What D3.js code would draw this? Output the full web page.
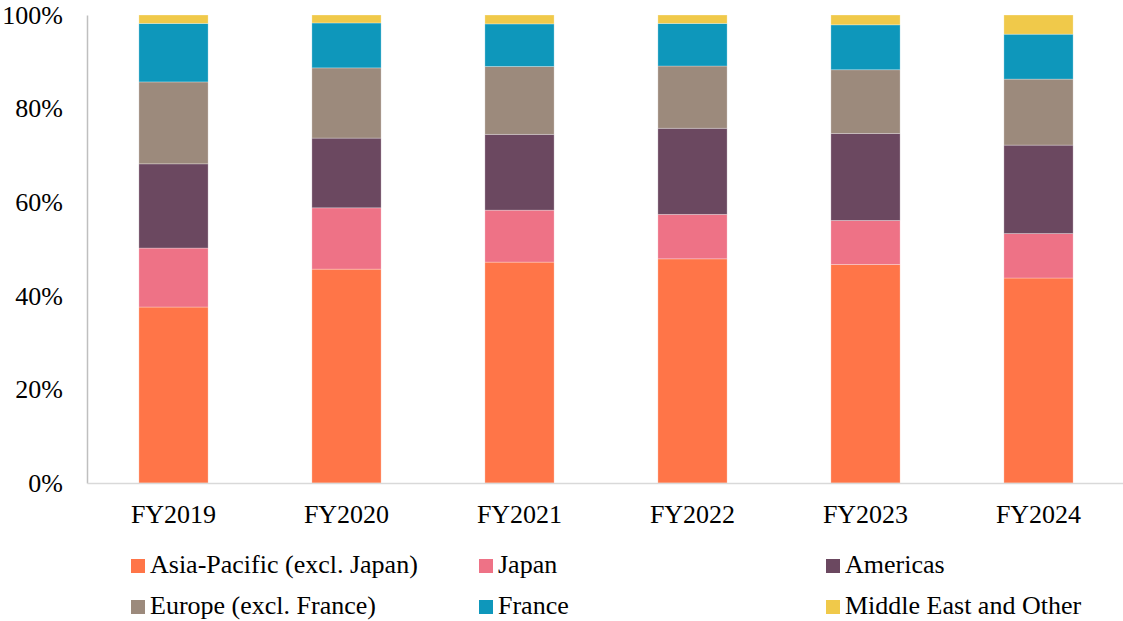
<!DOCTYPE html>
<html><head><meta charset="utf-8">
<script src="https://cdn.jsdelivr.net/npm/d3@7"></script>
<style>body{margin:0;background:#fff}svg{display:block}</style>
</head><body><svg id="c" width="1123" height="621"></svg>
<script>
const categories = ["FY2019","FY2020","FY2021","FY2022","FY2023","FY2024"];
const seriesNames = ["Asia-Pacific (excl. Japan)","Japan","Americas","Europe (excl. France)","France","Middle East and Other"];
const asiaPacific = [37.6,45.7,47.2,47.9,46.7,43.8];
const japan       = [12.6,13.1,11.1,9.5,9.4,9.5];
const americas    = [18.0,14.9,16.2,18.4,18.6,18.9];
const europe      = [17.5,15.0,14.5,13.3,13.6,14.1];
const france      = [12.5,9.6,9.1,9.1,9.6,9.6];
const middleEast  = [1.8,1.7,1.9,1.8,2.1,4.1];
const yTicks = [0,20,40,60,80,100];
const colors = ["#FF7548","#EE7286","#6B4860","#9C8A7C","#0E97BB","#F0C94A"];

const FONT = "Liberation Serif";
const seriesVals = [asiaPacific,japan,americas,europe,france,middleEast];
const keys = seriesNames;
const rows = categories.map((c,i)=>{const o={cat:c};keys.forEach((k,j)=>o[k]=seriesVals[j][i]);return o;});
const stacked = d3.stack().keys(keys)(rows);

const svg = d3.select("#c").attr("font-family",FONT);
const m = {left:87, top:15, bottom:483};
const x = d3.scaleBand().domain(categories).range([m.left, m.left+6*173]).paddingInner(0.6).paddingOuter(0.3);
const y = d3.scaleLinear().domain([0,100]).range([m.bottom, m.top]);

const g = svg.append("g");
g.selectAll("g.s").data(stacked).join("g").attr("fill",(d,i)=>colors[i])
  .selectAll("rect").data(d=>d).join("rect")
  .attr("x",d=>x(d.data.cat)).attr("width",x.bandwidth())
  .attr("y",d=>y(d[1])).attr("height",d=>y(d[0])-y(d[1]))
  .attr("stroke","rgba(255,255,255,0.35)").attr("stroke-width",0.8);

// axes
const ya = svg.append("g").attr("transform",`translate(${m.left},0)`)
  .call(d3.axisLeft(y).tickValues(yTicks).tickFormat(d=>d+"%").tickSize(0).tickPadding(24));
ya.attr("font-family",FONT);
ya.select(".domain").attr("stroke","#bfbfbf").attr("stroke-width",1.5);
ya.selectAll("text").attr("font-size",26).attr("fill","#000").style("font-family",FONT);

const xa = svg.append("g").attr("transform",`translate(0,${m.bottom})`)
  .call(d3.axisBottom(x).tickSize(0).tickPadding(22));
xa.attr("font-family",FONT);
xa.select(".domain").attr("stroke","#d9d9d9").attr("stroke-width",1.5);
xa.selectAll("text").attr("font-size",26).attr("fill","#000").style("font-family",FONT);

// legend
const legX = [131,479,826], legY = [559,600];
const leg = svg.append("g");
seriesNames.forEach((n,i)=>{
  const cx = legX[i%3], cy = legY[Math.floor(i/3)];
  leg.append("rect").attr("x",cx).attr("y",cy).attr("width",14).attr("height",14).attr("fill",colors[i]);
  leg.append("text").attr("x",cx+19).attr("y",cy+14).attr("font-size",26)
    .style("font-family",FONT).attr("fill","#000").text(n);
});
</script></body></html>
